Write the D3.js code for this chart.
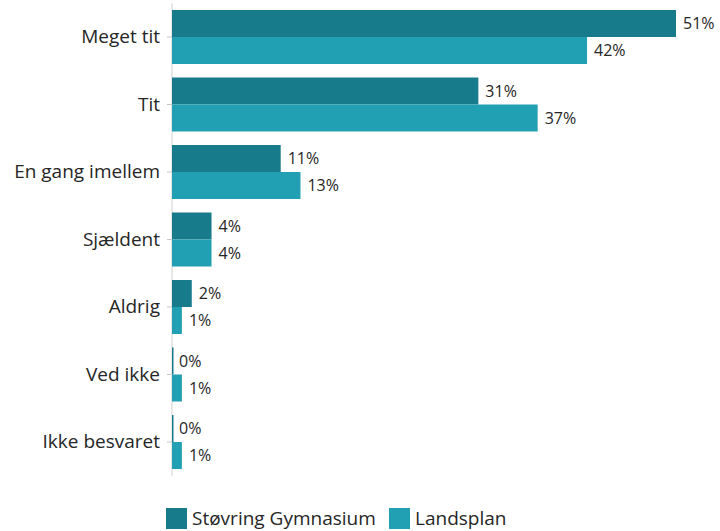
<!DOCTYPE html>
<html><head><meta charset="utf-8">
<script src="https://cdn.jsdelivr.net/npm/d3@7"></script>
<style>body{margin:0;background:#fff}svg{display:block}</style>
</head><body>
<script>
const categories = ["Meget tit","Tit","En gang imellem","Sjældent","Aldrig","Ved ikke","Ikke besvaret"];
const seriesNames = ["Støvring Gymnasium","Landsplan"];
const stovring = [51,31,11,4,2,0,0];
const landsplan = [42,37,13,4,1,1,1];
const colors = ["#187b8c","#22a0b3"];

const W=720,H=531;
const svg=d3.select("body").append("svg").attr("width",W).attr("height",H);
const font="'Open Sans', sans-serif";
const x=d3.scaleLinear().domain([0,51]).range([172,676]);
const y=d3.scaleBand().domain(categories).range([3.25,475.75]).paddingInner(0.2).paddingOuter(0.1);
const sub=d3.scaleBand().domain(seriesNames).range([0,y.bandwidth()]);

// axis
const ax=svg.append("g").attr("transform","translate(172,0)").call(d3.axisLeft(y).tickSize(5).tickPadding(7));
ax.select(".domain").attr("stroke","#d0d0d0").attr("d",`M0,${y.range()[0]}V${y.range()[1]}`);
ax.selectAll(".tick line").attr("stroke","#c8c8c8");
ax.selectAll(".tick text").attr("font-family",font).attr("font-size",19).attr("fill","#262626");

const data=[stovring,landsplan];
data.forEach((vals,si)=>{
  const g=svg.append("g");
  g.selectAll("rect").data(categories).join("rect")
    .attr("x",x(0)).attr("y",c=>y(c)+sub(seriesNames[si]))
    .attr("width",(c,i)=>Math.max(x(vals[i])-x(0),1.5))
    .attr("height",sub.bandwidth()).attr("fill",colors[si]);
  g.selectAll("text").data(categories).join("text")
    .attr("x",(c,i)=>x(vals[i])+7).attr("y",c=>y(c)+sub(seriesNames[si])+sub.bandwidth()/2)
    .attr("dy","0.35em").attr("font-family",font).attr("font-size",16).attr("fill","#262626")
    .text((c,i)=>vals[i]+"%");
});

// legend
const leg=svg.append("g").attr("transform","translate(166,508)");
const lx=[0,223];
seriesNames.forEach((n,i)=>{
  leg.append("rect").attr("x",lx[i]).attr("y",0).attr("width",21).attr("height",21).attr("fill",colors[i]);
  leg.append("text").attr("x",lx[i]+26).attr("y",10).attr("dy","0.35em")
    .attr("font-family",font).attr("font-size",19).attr("fill","#262626").text(n);
});
</script>
</body></html>
